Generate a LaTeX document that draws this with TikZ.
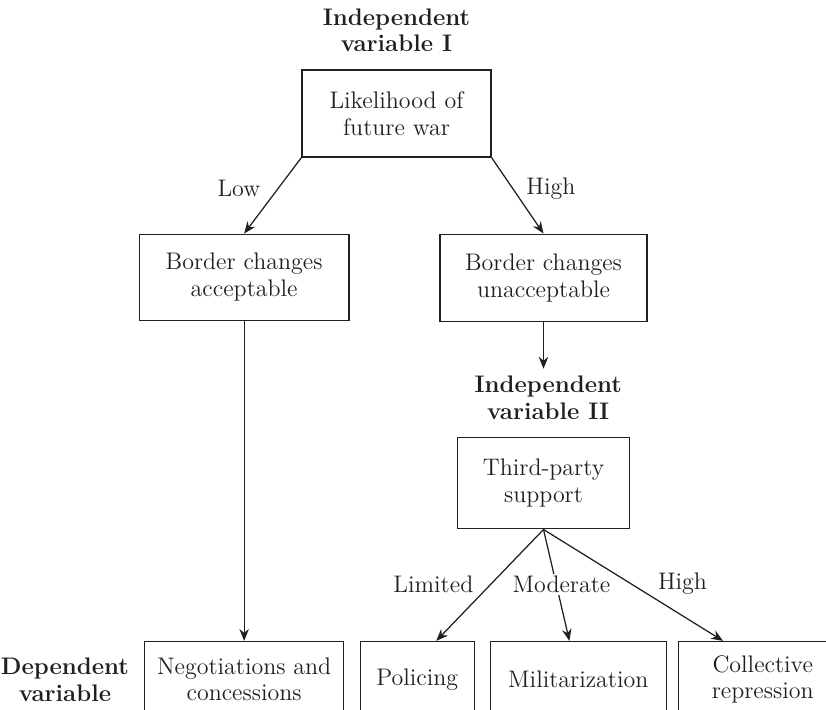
\documentclass[tikz,border=0pt]{standalone}
\usepackage{tikz}
\usetikzlibrary{arrows.meta,positioning}
\definecolor{DiagramInk}{HTML}{231F20}
\newcommand{\diagfont}{\fontsize{11.5}{12.8}\selectfont}

\begin{document}
\begin{tikzpicture}[
  x=0.48pt,y=-0.48pt,
  box/.style={draw=DiagramInk,line width=0.6pt,text=DiagramInk,align=center,font=\diagfont,inner sep=2pt},
  varhead/.style={text=DiagramInk,align=center,font=\diagfont\bfseries},
  branch/.style={text=DiagramInk,font=\diagfont},
  arrow/.style={-{Stealth[length=2mm,width=1.6mm]},line width=0.6pt,draw=DiagramInk}
]
\fill[white] (0,0) rectangle (826,709);
\useasboundingbox (0,0) rectangle (826,709);
\node[box,minimum width=31.9mm,minimum height=14.7mm] (war) at (396.5,113.5) {Likelihood of\\future war};
\node[varhead,above=1.7mm of war] (head1) {Independent\\variable I};
\node[box,minimum width=35.4mm,minimum height=14.5mm,below=12.8mm of war,xshift=-25.7mm] (acc) {Border changes\\acceptable};
\node[box,minimum width=34.9mm,minimum height=14.7mm,below=12.8mm of war,xshift=24.8mm] (unacc) {Border changes\\unacceptable};
\node[box,minimum width=29mm,minimum height=15.4mm,below=19.4mm of unacc] (support) {Third-party\\support};
\node[varhead,above=1.7mm of support,xshift=0.8mm] (head2) {Independent\\variable II};
% dependent variable row
\node[box,minimum width=33.6mm,minimum height=12.8mm,below=54mm of acc] (nego) {Negotiations and\\concessions};
\node[box,minimum width=19.2mm,minimum height=12.8mm,right=2.6mm of nego] (police) {Policing};
\node[box,minimum width=29.7mm,minimum height=12.8mm,right=2.5mm of police] (milit) {Militarization};
\node[box,minimum width=28.5mm,minimum height=12.8mm,right=1.8mm of milit] (repress) {Collective\\repression};
\node[varhead,left=1.3mm of nego] (head3) {Dependent\\variable};
\draw[arrow] (war.south west) -- node[branch,left=1.7mm,pos=0.41] {Low} (acc.north);
\draw[arrow] (war.south east) -- node[branch,right=1mm,pos=0.41] {High} (unacc.north);
\draw[arrow] (unacc.south) -- (unacc.south |- head2.north);
\draw[arrow] (acc.south) -- (nego.north);
\draw[arrow] (support.south) -- node[branch,left=1.7mm,pos=0.49] {Limited} ([xshift=3.2mm]police.north);
\draw[arrow] (support.south) -- node[branch,pos=0.49,fill=white,inner sep=1pt,xshift=0.9mm] {Moderate} ([xshift=-1.5mm]milit.north);
\draw[arrow] (support.south) -- node[branch,right=3.2mm,pos=0.49] {High} ([xshift=-6.7mm]repress.north);
\end{tikzpicture}
\end{document}
